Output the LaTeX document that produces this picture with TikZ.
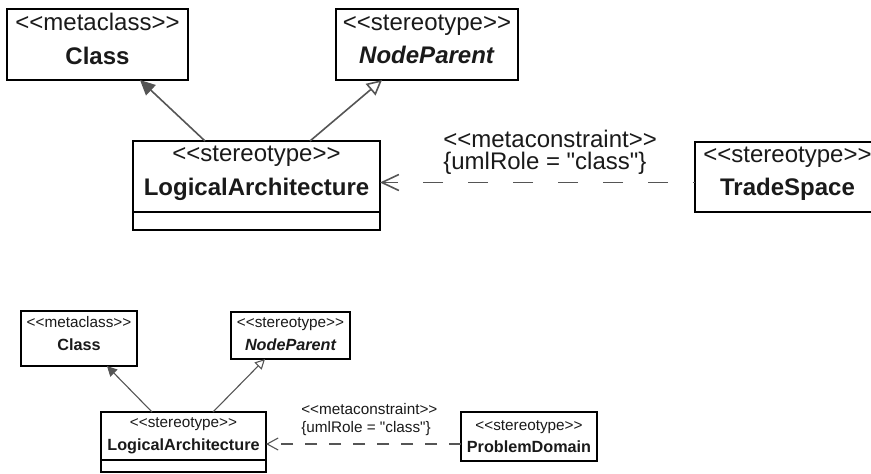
\documentclass[tikz,border=0pt]{standalone}
\usepackage{fontspec}
\setmainfont{Liberation Sans}
\usetikzlibrary{arrows.meta,positioning}
\definecolor{umlLine}{HTML}{555555}
\definecolor{umlText}{HTML}{1A1A1A}
\newcommand{\stereo}[1]{<{}<#1>{}>}
\newcommand{\dep}[1]{\rule[-#1]{0pt}{#1}}
\newcommand{\smallname}[1]{{\fontsize{16.2}{22.5}\selectfont\bfseries #1}}

\begin{document}
\begin{tikzpicture}[x=1pt, y=-1pt,
    bigbox/.style={draw=black, line width=1.8pt, fill=white, align=center, inner sep=0pt, outer sep=0pt, text=umlText, font=\fontsize{24}{33.5}\selectfont},
    smallbox/.style={draw=black, line width=1.2pt, fill=white, align=center, inner sep=0pt, outer sep=0pt, text=umlText, font=\fontsize{15.3}{22.5}\selectfont},
    bigarrow/.style={draw=umlLine, line width=1.6pt},
    smallarrow/.style={draw=umlLine, line width=1.1pt}]
    \useasboundingbox (0,0) rectangle (871,474);
    \fill[white] (0,0) rectangle (871,474);
    \clip (0,0) rectangle (871,474);

    % upper diagram
    \node[bigbox, minimum width=181, minimum height=71] (Class) at (97.5,44.5) {\stereo{metaclass}\\\textbf{Class}\dep{11pt}};
    \node[bigbox, minimum width=182, minimum height=71] (NodeParent) at (427,44.5) {\stereo{stereotype}\\\textbf{\textit{NodeParent}}\dep{11pt}};
    \node[bigbox, minimum width=247, minimum height=71] (LogArch) at (256.5,176.5) {\stereo{stereotype}\\\textbf{LogicalArchitecture}\dep{12pt}};
    \node[bigbox, minimum width=247, minimum height=18, below=0pt of LogArch] (LogArchAttr) {};
    \node[bigbox, minimum width=185, minimum height=70] (TradeSpace) at (787.5,177) {\stereo{stereotype}\\\textbf{TradeSpace}\dep{12pt}};

    \draw[bigarrow, -{Triangle[length=15pt,width=14pt]}] ([xshift=-51.5pt]LogArch.north) -- ([xshift=42.5pt]Class.south);
    \draw[bigarrow, -{Triangle[open,length=15pt,width=15pt]}] ([xshift=53.5pt]LogArch.north) -- ([xshift=-45pt]NodeParent.south);
    \draw[bigarrow, dash pattern=on 20pt off 25pt, dash phase=18pt, -{Straight Barb[length=17pt,width=16pt]}] ([yshift=-5.5pt]TradeSpace.west) -- ([yshift=-5.5pt]TradeSpace.west -| LogArch.east)
        node[pos=0.46, above=4pt, align=left, text=umlText, font=\fontsize{24}{22}\selectfont] (TopConstraint) {\stereo{metaconstraint}\\\{umlRole = \textquotedbl class\textquotedbl\}};

    % lower diagram
    \node[smallbox, minimum width=116, minimum height=55] (ClassB) at (79,338.5) {\stereo{metaclass}\\\smallname{Class}\dep{10pt}};
    \node[smallbox, minimum width=119, minimum height=47] (NodeParentB) at (290.5,335.5) {\stereo{stereotype}\\\smallname{\itshape NodeParent}\dep{2.5pt}};
    \node[smallbox, minimum width=165, minimum height=48] (LogArchB) at (183.5,436) {\stereo{stereotype}\\\smallname{LogicalArchitecture}};
    \node[smallbox, minimum width=165, minimum height=12, below=0pt of LogArchB] (LogArchBAttr) {};
    \node[smallbox, minimum width=136, minimum height=49] (ProbDomain) at (529,436.5) {\stereo{stereotype}\\\smallname{ProblemDomain}};

    \draw[smallarrow, -{Triangle[length=10pt,width=10pt]}] ([xshift=-31.5pt]LogArchB.north) -- ([xshift=28pt]ClassB.south);
    \draw[smallarrow, -{Triangle[open,length=10pt,width=10pt]}] ([xshift=29.5pt]LogArchB.north) -- ([xshift=-25.5pt]NodeParentB.south);
    \draw[smallarrow, dash pattern=on 12pt off 12pt, -{Straight Barb[length=11pt,width=12pt]}] ([yshift=-7.5pt]ProbDomain.west) -- ([yshift=-7.5pt]ProbDomain.west -| LogArchB.east)
        node[pos=0.47, above=4pt, align=left, text=umlText, font=\fontsize{15.3}{18}\selectfont] (BottomConstraint) {\stereo{metaconstraint}\\\{umlRole = \textquotedbl class\textquotedbl\}};
\end{tikzpicture}
\end{document}
